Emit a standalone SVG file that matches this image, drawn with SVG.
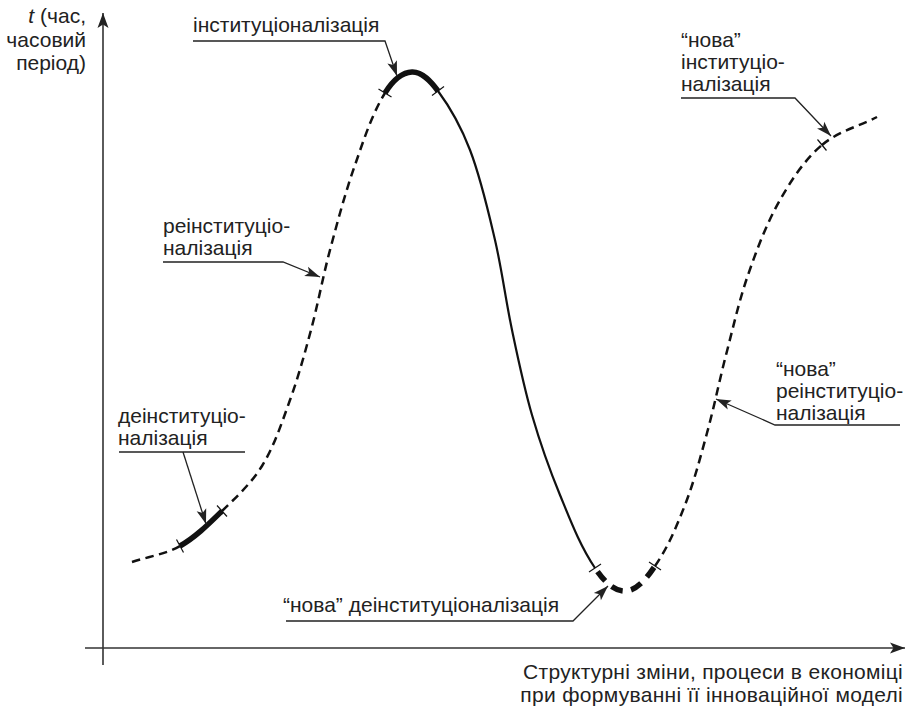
<svg xmlns="http://www.w3.org/2000/svg" width="907" height="711" viewBox="0 0 907 711">
<style>
text{font-family:"Liberation Sans",Arial,sans-serif;font-size:21px;fill:#222}
.big{letter-spacing:0.3px}
.ax{stroke:#333;stroke-width:1.6;fill:none}
.dash{stroke:#111;stroke-width:2.5;fill:none;stroke-dasharray:8.5 5.5}
.thin{stroke:#111;stroke-width:2.2;fill:none}
.thick{stroke:#111;stroke-width:5.5;fill:none;stroke-linecap:butt}
.tdash{stroke:#111;stroke-width:5.5;fill:none;stroke-dasharray:12 8.5;stroke-dashoffset:16}
.tick{stroke:#111;stroke-width:1.2}
.call{stroke:#222;stroke-width:1.3;fill:none}
</style>
<defs>
<marker id="ah" markerUnits="userSpaceOnUse" viewBox="-16 -6 17 12" refX="0" refY="0" markerWidth="17" markerHeight="12" orient="auto">
<path d="M0,0 L-15,-5 L-11.5,0 L-15,5 Z" fill="#222"/>
</marker>
<marker id="axh" markerUnits="userSpaceOnUse" viewBox="-16 -7 17 14" refX="0" refY="0" markerWidth="17" markerHeight="14" orient="auto">
<path d="M0,0 L-15,-5.5 L-11.5,0 L-15,5.5 Z" fill="#222"/>
</marker>
</defs>

<g id="axes">
<path class="ax" d="M103,665 V13" marker-end="url(#axh)"/>
<path class="ax" d="M85,648 H905" marker-end="url(#axh)"/>
</g>

<g id="curve">
<path class="dash" d="M132,562 C148,556.7 165.3,554.3 180,546"/>
<path class="thick" d="M180,546 C195.8,537 209,523.7 222,511"/>
<path class="dash" d="M222,511 C236.4,497 251.5,483.1 262,466 C274.5,445.6 281.9,422.5 290,400 C298.3,377 304.7,353.6 311,330 C318.1,303.5 322.9,276.5 330,250 C337.6,221.5 345.2,192.8 355,165 C363.6,140.5 371.4,115.2 385,93"/>
<path class="thick" d="M385,93 C391,83.3 400.6,72.4 412,72 C422.7,71.6 431.6,82.4 438,91"/>
<path class="thin" d="M438,91 C451.4,109 462,129.1 470,150 C481.1,179 487.9,209.7 495,240 C501.9,269.7 505.7,300.2 512,330 C518,358.5 523.9,387.1 532,415 C539.9,442.2 549.2,468.8 560,495 C570.3,520 579.9,545.6 595,568"/>
<path class="tdash" d="M595,568 C602.1,578.4 612.4,591.4 625,591 C638,590.6 647.6,576.7 655,566"/>
<path class="dash" d="M655,566 C668,547.4 676.7,526.1 685,505 C694.1,481.6 700.4,457.2 707,433 C714.1,407.1 719.3,380.9 726,355 C733,328.2 738.9,301.2 748,275 C756.9,249.3 766.5,223.6 780,200 C791.4,179.9 804.4,160 822,145"/>
<path class="dash" d="M822,145 C837.7,131.6 858.6,126.4 877,117"/>
<g id="ticks">
<line class="tick" x1="176.5" y1="539.5" x2="183.5" y2="552.5"/>
<line class="tick" x1="217" y1="505.5" x2="227" y2="516.5"/>
<line class="tick" x1="378.5" y1="89" x2="391.5" y2="97"/>
<line class="tick" x1="444" y1="86.5" x2="432" y2="95.5"/>
<line class="tick" x1="601" y1="564" x2="589" y2="572"/>
<line class="tick" x1="649" y1="562" x2="661" y2="570"/>
<line class="tick" x1="817.5" y1="139.5" x2="826.5" y2="150.5"/>
</g>
</g>

<g id="connectors">
<path class="call" d="M193,41 H385 L397,76" marker-end="url(#ah)"/>
<path class="call" d="M163,262 H283 L320,277" marker-end="url(#ah)"/>
<path class="call" d="M119,452 H245"/>
<path class="call" d="M183,452 L206,524" marker-end="url(#ah)"/>
<path class="call" d="M286,621 H573 L608,586" marker-end="url(#ah)"/>
<path class="call" d="M900,425 H775 L716,399" marker-end="url(#ah)"/>
<path class="call" d="M681,98 H795 L831,136" marker-end="url(#ah)"/>
</g>

<g id="label-axis-y">
<text x="86" y="23" text-anchor="end"><tspan font-style="italic">t</tspan> (час,</text>
<text x="86" y="47" text-anchor="end">часовий</text>
<text x="86" y="70" text-anchor="end">період)</text>
</g>
<g id="label-axis-x">
<text class="big" x="903" y="679" text-anchor="end">Структурні зміни, процеси в економіці</text>
<text class="big" x="903" y="702" text-anchor="end">при формуванні її інноваційної моделі</text>
</g>
<g id="label-inst">
<text x="193" y="32">інституціоналізація</text>
</g>
<g id="label-reinst">
<text x="163" y="233">реінституціо-</text>
<text x="163" y="255">налізація</text>
</g>
<g id="label-deinst">
<text x="118" y="423">деінституціо-</text>
<text x="118" y="445">налізація</text>
</g>
<g id="label-new-deinst">
<text x="283" y="612">“нова” деінституціоналізація</text>
</g>
<g id="label-new-reinst">
<text x="776" y="376">“нова”</text>
<text x="776" y="398">реінституціо-</text>
<text x="776" y="420">налізація</text>
</g>
<g id="label-new-inst">
<text x="681" y="47">“нова”</text>
<text x="681" y="69">інституціо-</text>
<text x="681" y="91">налізація</text>
</g>
</svg>
